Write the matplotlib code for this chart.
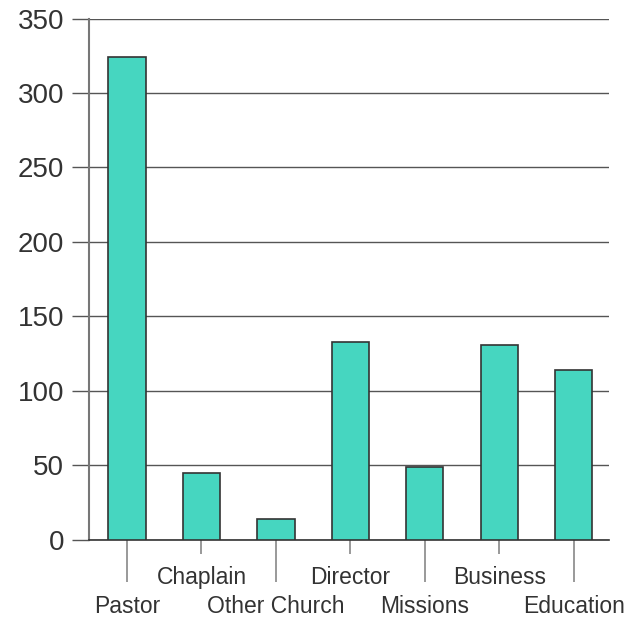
import matplotlib.pyplot as plt
import numpy as np

plt.rcParams['font.family'] = ['Liberation Sans', 'DejaVu Sans']

categories = ['Pastor', 'Chaplain', 'Other Church', 'Director', 'Missions', 'Business', 'Education']
values = [324, 45, 14, 133, 49, 131, 114]
yticks = [0, 50, 100, 150, 200, 250, 300, 350]

fig = plt.figure(figsize=(6.27, 6.18), dpi=100)
ax = fig.add_axes([0.142, 0.127, 0.829, 0.843])

index = np.arange(len(categories))
ax.bar(index, values, width=0.5, color='#46d6c0', edgecolor='#333333', linewidth=1.2, zorder=3)

ax.set_ylim(0, 350)
ax.set_xlim(-0.51, 6.47)
ax.set_yticks(yticks)
ax.yaxis.grid(True, color='#555555', linewidth=1, zorder=0)
ax.tick_params(axis='y', length=12, width=1, color='#555555', labelsize=20, labelcolor='#333333', pad=6)

# alternate labels in two rows: lower row on major ticks, upper row on minor ticks
ax.set_xticks(index[::2])
ax.set_xticklabels(categories[::2])
ax.set_xticks(index[1::2], minor=True)
ax.set_xticklabels(categories[1::2], minor=True)
ax.tick_params(axis='x', which='major', length=30, width=1.2, color='#888888',
               labelsize=16.5, labelcolor='#333333', pad=10)
ax.tick_params(axis='x', which='minor', length=10, width=1.2, color='#888888',
               labelsize=16.5, labelcolor='#333333', pad=9)

for s in ['top', 'right']:
    ax.spines[s].set_visible(False)
ax.spines['left'].set_color('#777777')
ax.spines['left'].set_linewidth(1.5)
ax.spines['bottom'].set_color('#333333')
ax.spines['bottom'].set_linewidth(1.2)

fig.savefig('out.png', dpi=100)
